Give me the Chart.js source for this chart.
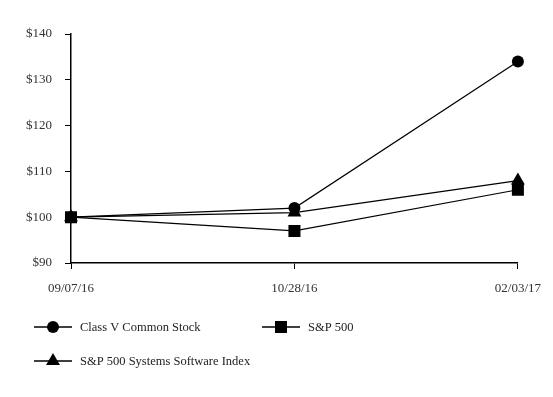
<!DOCTYPE html>
<html>
<head>
<meta charset="utf-8">
<script src="https://cdn.jsdelivr.net/npm/chart.js@4/dist/chart.umd.min.js"></script>
<style>
  html, body { margin: 0; padding: 0; background: #fff; }
  #wrap { position: relative; width: 553px; height: 397px; }
  #perfChart { position: absolute; left: 0; top: 0; }
</style>
</head>
<body>
<div id="wrap">
  <canvas id="perfChart" width="553" height="397"></canvas>
</div>
<script>
// Data
const dates = ['09/07/16', '10/28/16', '02/03/17'];
const classV = [100, 102, 134];
const sp500 = [100, 97, 106];
const spSoftware = [100, 101, 108];
const seriesNames = ['Class V Common Stock', 'S&P 500', 'S&P 500 Systems Software Index'];
const yTicks = [90, 100, 110, 120, 130, 140];

const FONT = { family: 'Liberation Serif', size: 13 };

function makeSet(label, data, style, r) {
  return {
    label: label,
    data: data,
    borderColor: '#000',
    backgroundColor: '#000',
    borderWidth: 1.2,
    tension: 0,
    pointStyle: style,
    pointRadius: r,
    pointHoverRadius: r,
    pointBorderWidth: 0
  };
}

// legend drawn on canvas below the plot
const legendItems = [
  { text: seriesNames[0], style: 'circle', r: 6, x: 34, y: 327 },
  { text: seriesNames[1], style: 'rect', r: 8.5, x: 262, y: 327 },
  { text: seriesNames[2], style: 'triangle', r: 8, x: 34, y: 361 }
];
const legendPlugin = {
  id: 'bottomLegend',
  afterDraw(chart) {
    const c = chart.ctx;
    c.save();
    c.strokeStyle = '#000';
    c.fillStyle = '#000';
    c.lineWidth = 1.5;
    legendItems.forEach(it => {
      c.beginPath();
      c.moveTo(it.x, it.y);
      c.lineTo(it.x + 38, it.y);
      c.stroke();
      Chart.helpers.drawPoint(c, { pointStyle: it.style, radius: it.r, rotation: 0, borderWidth: 0 }, it.x + 19, it.y);
      c.font = '12.5px "Liberation Serif"';
      c.fillStyle = '#222';
      c.textBaseline = 'middle';
      c.textAlign = 'left';
      c.fillText(it.text, it.x + 46, it.y + 1);
      c.fillStyle = '#000';
    });
    c.restore();
  }
};

const ctx = document.getElementById('perfChart').getContext('2d');
new Chart(ctx, {
  type: 'line',
  data: {
    labels: dates,
    datasets: [
      makeSet(seriesNames[0], classV, 'circle', 6),
      makeSet(seriesNames[1], sp500, 'rect', 8.5),
      makeSet(seriesNames[2], spSoftware, 'triangle', 8)
    ]
  },
  plugins: [legendPlugin],
  options: {
    responsive: false,
    animation: false,
    layout: { padding: { left: 0, right: 32, top: 34, bottom: 0 } },
    plugins: {
      legend: { display: false },
      tooltip: { enabled: false }
    },
    scales: {
      x: {
        offset: false,
        grid: { display: true, drawOnChartArea: false, drawTicks: true, tickLength: 6, color: '#000' },
        border: { display: true, color: '#000', width: 1.5 },
        ticks: { color: '#333', font: FONT, padding: 12, maxRotation: 0 },
        afterFit: s => { s.height = 134; }
      },
      y: {
        min: 90,
        max: 140,
        afterBuildTicks: s => { s.ticks = yTicks.map(v => ({ value: v })); },
        grid: { display: true, drawOnChartArea: false, drawTicks: true, tickLength: 6, color: '#000' },
        border: { display: true, color: '#000', width: 1.5 },
        ticks: { color: '#333', font: FONT, padding: 13, callback: v => '$' + v },
        afterFit: s => { s.width = 71; }
      }
    }
  }
});
</script>
</body>
</html>
